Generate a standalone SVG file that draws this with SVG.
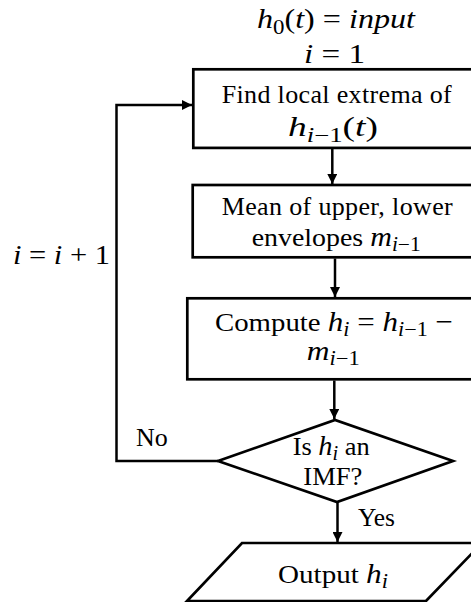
<svg xmlns="http://www.w3.org/2000/svg" width="471" height="602" viewBox="0 0 471 602">
<style>
  .shape { fill: #ffffff; stroke: #000000; stroke-width: 2.7; }
  .conn { fill: none; stroke: #000000; stroke-width: 2.5; }
  text { font-family: "Liberation Serif", "Times New Roman", serif; font-size: 26px; fill: #000000; }
  .it { font-style: italic; font-size: 28px; }
  .m { font-size: 28px; }
  .sub { font-size: 20px; }
  .sub .it { font-size: 20px; }
</style>
<defs>
  <marker id="arrow" markerUnits="userSpaceOnUse" markerWidth="11" markerHeight="10" refX="10" refY="5" orient="auto">
    <path d="M0,0 L10,5 L0,10 Z" fill="#000000"/>
  </marker>
</defs>
<rect x="0" y="0" width="471" height="602" fill="#ffffff"/>

<g id="init">
  <text x="257" y="28" textLength="158" lengthAdjust="spacingAndGlyphs" class="m"><tspan class="it">h</tspan><tspan class="sub" dy="6">0</tspan><tspan dy="-6">(</tspan><tspan class="it">t</tspan>) = <tspan class="it">input</tspan></text>
  <text x="304" y="63" textLength="61" lengthAdjust="spacingAndGlyphs" class="m"><tspan class="it">i</tspan> = 1</text>
</g>

<g id="connectors">
  <line class="conn" x1="332.3" y1="149" x2="332.3" y2="184" marker-end="url(#arrow)"/>
  <line class="conn" x1="335" y1="258.5" x2="335" y2="297" marker-end="url(#arrow)"/>
  <line class="conn" x1="334.3" y1="380.5" x2="334.3" y2="419" marker-end="url(#arrow)"/>
  <line class="conn" x1="337.5" y1="502" x2="337.5" y2="542" marker-end="url(#arrow)"/>
  <polyline class="conn" points="218,461 116.5,461 116.5,105 192,105" marker-end="url(#arrow)"/>
  <text x="136" y="446">No</text>
  <text x="358" y="526" textLength="37" lengthAdjust="spacingAndGlyphs">Yes</text>
  <text x="13" y="264" textLength="97" lengthAdjust="spacingAndGlyphs" class="m"><tspan class="it">i</tspan> = <tspan class="it">i</tspan> + 1</text>
</g>

<g id="find-extrema">
  <rect class="shape" x="193.3" y="69.3" width="290" height="78.6"/>
  <text x="221.7" y="103" textLength="230" lengthAdjust="spacing">Find local extrema of</text>
  <text x="288" y="136" textLength="90" lengthAdjust="spacingAndGlyphs" class="m"><tspan class="it">h</tspan><tspan class="sub" dy="6"><tspan class="it">i</tspan>−1</tspan><tspan dy="-6">(</tspan><tspan class="it">t</tspan>)</text>
</g>

<g id="mean-envelopes">
  <rect class="shape" x="192.7" y="185" width="290" height="72.3"/>
  <text x="221.7" y="215" textLength="231" lengthAdjust="spacing">Mean of upper, lower</text>
  <text x="251.7" y="246" textLength="169" lengthAdjust="spacingAndGlyphs">envelopes <tspan class="it">m</tspan><tspan class="sub" dy="5"><tspan class="it">i</tspan>−1</tspan></text>
</g>

<g id="compute">
  <rect class="shape" x="187.3" y="298.3" width="295" height="81"/>
  <text x="215" y="331" textLength="238" lengthAdjust="spacingAndGlyphs">Compute <tspan class="it">h</tspan><tspan class="sub" dy="5"><tspan class="it">i</tspan></tspan><tspan class="m" dy="-5"> = </tspan><tspan class="it">h</tspan><tspan class="sub" dy="5"><tspan class="it">i</tspan>−1</tspan><tspan class="m" dy="-5"> −</tspan></text>
  <text x="306.7" y="360" textLength="53" lengthAdjust="spacingAndGlyphs"><tspan class="it">m</tspan><tspan class="sub" dy="5"><tspan class="it">i</tspan>−1</tspan></text>
</g>

<g id="is-imf">
  <polygon class="shape" points="218,461 335,420 453,461 337,502"/>
  <text x="292.7" y="455" textLength="77" lengthAdjust="spacingAndGlyphs">Is <tspan class="it">h</tspan><tspan class="sub" dy="5"><tspan class="it">i</tspan></tspan><tspan dy="-5"> an</tspan></text>
  <text x="303.3" y="485" textLength="59" lengthAdjust="spacingAndGlyphs">IMF?</text>
</g>

<g id="output">
  <polygon class="shape" points="242,543 482,543 426,601 187,601"/>
  <text x="278" y="583" textLength="110" lengthAdjust="spacingAndGlyphs">Output <tspan class="it">h</tspan><tspan class="sub" dy="5"><tspan class="it">i</tspan></tspan></text>
</g>
</svg>
